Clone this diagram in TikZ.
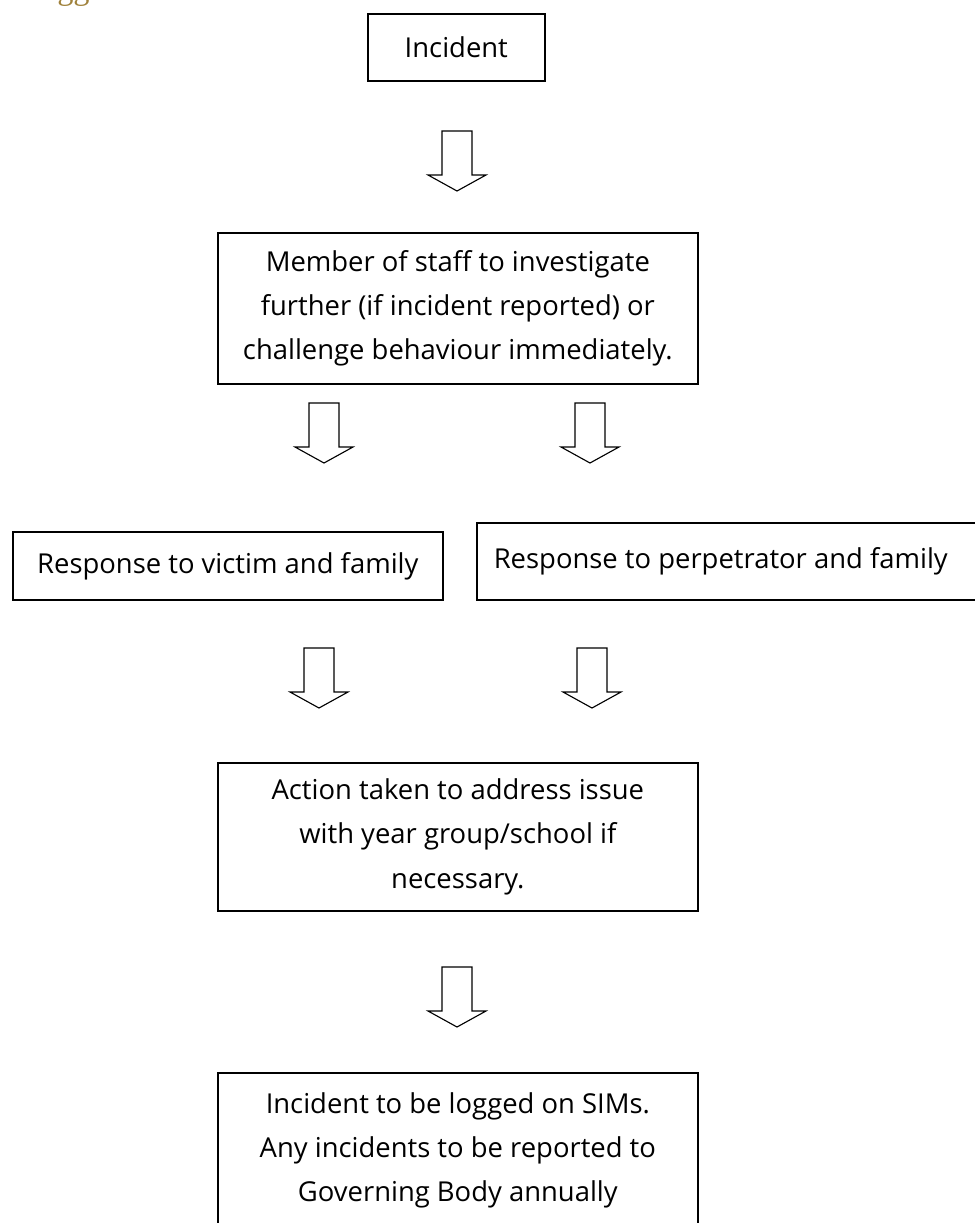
\documentclass[tikz,border=0pt]{standalone}
\usepackage{fontspec}
\setmainfont{Open Sans}
\newfontfamily\headfont{Liberation Serif}
\usetikzlibrary{positioning}
\definecolor{goldtext}{RGB}{160,130,60}

\tikzset{
  flowbox/.style={draw=black, line width=1.1pt, align=center, inner sep=0pt,
    font=\fontsize{19.5}{31.5}\selectfont},
  blockarrow/.pic={
    \draw[line width=0.8pt, line join=miter] (-15,0) -- (15,0) -- (15,44) -- (29,44)
      -- (0,60) -- (-29,44) -- (-15,44) -- cycle;
  }
}

\begin{document}
\begin{tikzpicture}[x=0.025cm, y=-0.025cm]
  \useasboundingbox (0,0) rectangle (974,1223);
  % cut-off heading above the chart
  \node[anchor=base west, inner sep=0pt, text=goldtext, font=\headfont\fontsize{23}{23}\selectfont] (heading) at (57,0) {gg};

  \node[flowbox, anchor=north west, minimum width=4.425cm, minimum height=1.675cm] (incident) at (367,13) {Incident};
  \pic (arrowa) at (457,131) {blockarrow};

  \node[flowbox, anchor=north west, minimum width=12cm, minimum height=3.775cm] (staff) at (217,232) {Member of staff to investigate\\further (if incident reported) or\\challenge behaviour immediately.};
  \pic (arrowbl) at (324,403) {blockarrow};
  \pic (arrowbr) at (590,403) {blockarrow};

  \node[flowbox, anchor=south west, minimum width=10.75cm, minimum height=1.7cm] (victim) at (12,601) {Response to victim and family};
  \node[flowbox, anchor=south west, inner xsep=0.425cm, minimum height=1.925cm] (perp) at (476,601) {\makebox[11.95cm][l]{Response to perpetrator and family}};
  \pic (arrowcl) at (319,648) {blockarrow};
  \pic (arrowcr) at (592,648) {blockarrow};

  \node[flowbox, anchor=north west, minimum width=12cm, minimum height=3.7cm] (action) at (217,762) {Action taken to address issue\\with year group/school if\\necessary.};
  \pic (arrowd) at (457,967) {blockarrow};

  \node[flowbox, anchor=north west, minimum width=12cm, minimum height=3.875cm] (logged) at (217,1072) {Incident to be logged on SIMs.\\Any incidents to be reported to\\Governing Body annually};
\end{tikzpicture}
\end{document}
